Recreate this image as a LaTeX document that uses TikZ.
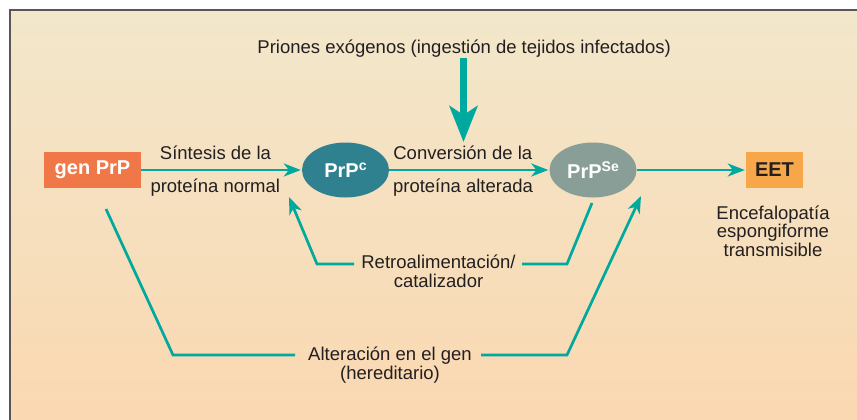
\documentclass[tikz,border=0pt]{standalone}
\usepackage{fontspec}
\setmainfont{Liberation Sans}
\usetikzlibrary{shapes.geometric,arrows.meta}
\definecolor{tealc}{HTML}{00A99D}
\definecolor{genc}{HTML}{F07848}
\definecolor{eetc}{HTML}{F7A64A}
\definecolor{prpcc}{HTML}{2F8190}
\definecolor{prpsec}{HTML}{8A9E98}
\definecolor{txtc}{HTML}{231F20}
\definecolor{bgtop}{HTML}{F2E7CB}
\definecolor{bgbot}{HTML}{FAD8B1}
\definecolor{framec}{HTML}{5A5656}
\newcommand\supx[1]{\raisebox{7.5pt}{\fontsize{14}{14}\selectfont #1}}
\begin{document}
\begin{tikzpicture}[x=1pt,y=-1pt,
  lbl/.style={font=\fontsize{18.5}{18.8}\selectfont, text=txtc, inner sep=0pt},
  boxn/.style={rectangle, inner sep=0pt, minimum height=36pt, font=\fontsize{20}{20}\selectfont\bfseries},
  ell/.style={ellipse, inner sep=0pt, minimum width=87pt, minimum height=55pt, text=white, font=\fontsize{20}{20}\selectfont\bfseries},
  conn/.style={draw=tealc, line width=2.7pt},
  tipc/.style={-{Stealth[length=17pt,width=13pt,inset=5pt]}},
  bigarr/.style={draw=tealc, line width=6.5pt, -{Stealth[length=36pt,width=28pt,inset=9pt]}}
]
\useasboundingbox (0,0) rectangle (857,420);
\shade[top color=bgtop, bottom color=bgbot] (10,10) rectangle (857,420);
\draw[framec, line width=2pt] (10,420) -- (10,10) -- (857,10);

\node[boxn, fill=genc, text=white, minimum width=97pt] (gen) at (92.5,170) {gen PrP};
\node[ell, fill=prpcc] (prpc) at (345.5,170) {PrP\supx{c}};
\node[ell, fill=prpsec] (prpse) at (593,170) {PrP\supx{Se}};
\node[boxn, fill=eetc, text=txtc, minimum width=57pt] (eet) at (774.5,170) {EET};

\node[lbl, anchor=base] (sint) at (215.5,159.3) {Síntesis de la};
\node[lbl, anchor=base] (protn) at (215.3,192.5) {proteína normal};
\node[lbl, anchor=base] (conv) at (462.8,159.3) {Conversión de la};
\node[lbl, anchor=base] (prota) at (463,192.5) {proteína alterada};
\node[lbl, anchor=base] (prio) at (464.2,53.3) {Priones exógenos (ingestión de tejidos infectados)};
\node[lbl, anchor=base, align=center] (retro) at (438.5,287.7) {Retroalimentación/\\catalizador};
\node[lbl, anchor=base, align=center] (alt) at (390,379) {Alteración en el gen\\(hereditario)};
\node[lbl, anchor=base, align=center] (eetl) at (773,256.7) {Encefalopatía\\espongiforme\\transmisible};

\draw[conn, tipc, shorten >=1pt] (gen.east) -- (prpc.west);
\draw[conn, tipc, shorten >=1pt] (prpc.east) -- (prpse.west);
\draw[conn, tipc, shorten >=1pt] (prpse.east) -- (eet.west);

\coordinate (bigs) at (463.5,58);
\coordinate (bige) at (463.5,142);
\draw[bigarr] (bigs) -- (bige);

\coordinate (fb0) at (592,203);
\coordinate (fb1) at (567,264);
\coordinate (fb2) at (522,264);
\coordinate (fb3) at (354,264);
\coordinate (fb4) at (317,264);
\coordinate (fb5) at (289,197);
\draw[conn] (fb0) -- (fb1) -- (fb2);
\draw[conn, tipc] (fb3) -- (fb4) -- (fb5);

\coordinate (al0) at (106,209);
\coordinate (al1) at (173,355);
\coordinate (al2) at (295,355);
\coordinate (al3) at (481,355);
\coordinate (al4) at (567,355);
\coordinate (al5) at (641,196);
\draw[conn] (al0) -- (al1) -- (al2);
\draw[conn, tipc] (al3) -- (al4) -- (al5);
\end{tikzpicture}
\end{document}
